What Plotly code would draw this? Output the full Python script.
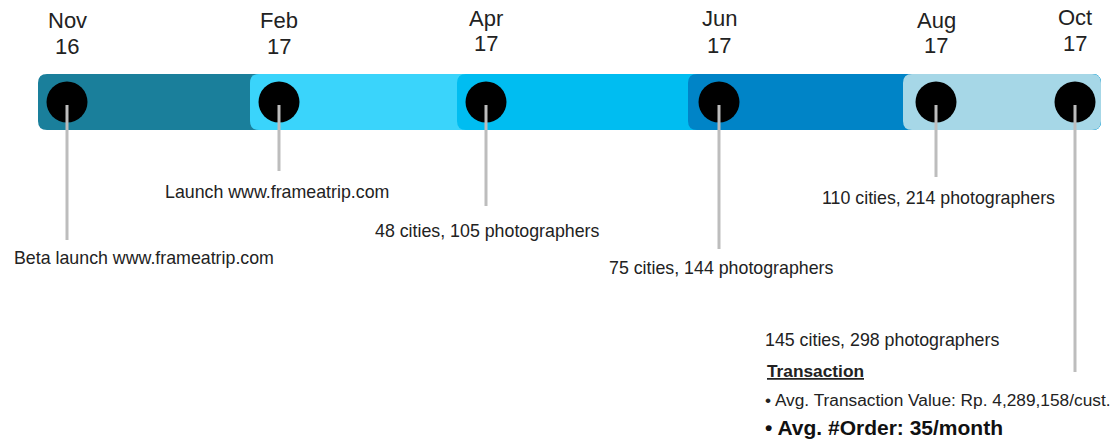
import plotly.graph_objects as go

# ---- data ----
months = ["Nov", "Feb", "Apr", "Jun", "Aug", "Oct"]
years = ["16", "17", "17", "17", "17", "17"]
milestones = [
    "Beta launch www.frameatrip.com",
    "Launch www.frameatrip.com",
    "48 cities, 105 photographers",
    "75 cities, 144 photographers",
    "110 cities, 214 photographers",
    "145 cities, 298 photographers",
]
transaction_title = "Transaction"
transaction_lines = [
    "• Avg. Transaction Value: Rp. 4,289,158/cust.",
    "• Avg. #Order: 35/month",
]

# ---- layout (pixel-like coordinates) ----
W, H = 1112, 439
event_x = [67, 279, 486, 719, 936, 1075]
circle_y = 102
stem_end_y = [240, 171, 206, 249, 177, 372]
month_y = [20, 20, 18, 18, 20, 17]
year_y = [46, 46, 43, 45, 45, 43]
label_left_x = [12, 163, 373, 607, 820, 763]
label_y = [258, 192, 231, 268, 198, 340]
seg_left = [38, 250, 457, 688, 903]
bar_right = 1101
bar_top, bar_bottom = 74, 130
seg_colors = ["#1A7F9B", "#3AD4FB", "#00BDF1", "#0084C7", "#A6D7E7"]
FONT = "Arial, Liberation Sans, sans-serif"


def rounded_rect(x0, x1, y0, y1, r):
    return (f"M {x0+r},{y0} L {x1-r},{y0} Q {x1},{y0} {x1},{y0+r} "
            f"L {x1},{y1-r} Q {x1},{y1} {x1-r},{y1} L {x0+r},{y1} "
            f"Q {x0},{y1} {x0},{y1-r} L {x0},{y0+r} Q {x0},{y0} {x0+r},{y0} Z")


fig = go.Figure()

shapes = []
for left, col in zip(seg_left, seg_colors):
    shapes.append(dict(type="path", xref="x", yref="y",
                       path=rounded_rect(left, bar_right, bar_top, bar_bottom, 9),
                       fillcolor=col, line=dict(width=0), layer="below"))

# circles
fig.add_trace(go.Scatter(x=event_x, y=[circle_y] * len(event_x), mode="markers",
                         marker=dict(size=41, color="black", line=dict(width=0)),
                         hoverinfo="skip", showlegend=False))

# stems
for x, ye in zip(event_x, stem_end_y):
    fig.add_trace(go.Scatter(x=[x, x], y=[circle_y + 3, ye], mode="lines",
                             line=dict(color="#BDBDBD", width=3),
                             hoverinfo="skip", showlegend=False))

annotations = []
for m, yr, x, ym, yy in zip(months, years, event_x, month_y, year_y):
    for txt, yv in ((m, ym), (yr, yy)):
        annotations.append(dict(x=x, y=yv, xref="x", yref="y", text=txt,
                                showarrow=False, xanchor="center", yanchor="middle",
                                font=dict(family=FONT, size=22, color="#222222")))
for t, x, y in zip(milestones, label_left_x, label_y):
    annotations.append(dict(x=x, y=y, xref="x", yref="y", text=t,
                            showarrow=False, xanchor="left", yanchor="middle",
                            font=dict(family=FONT, size=17.8, color="#222222")))
annotations.append(dict(x=765, y=371, xref="x", yref="y",
                        text=f"<b><u>{transaction_title}</u></b>",
                        showarrow=False, xanchor="left", yanchor="middle",
                        font=dict(family=FONT, size=17.3, color="#222222")))
annotations.append(dict(x=763, y=400, xref="x", yref="y", text=transaction_lines[0],
                        showarrow=False, xanchor="left", yanchor="middle",
                        font=dict(family=FONT, size=17.3, color="#222222")))
annotations.append(dict(x=763, y=427, xref="x", yref="y",
                        text=f"<b>{transaction_lines[1]}</b>",
                        showarrow=False, xanchor="left", yanchor="middle",
                        font=dict(family=FONT, size=21, color="#111111")))

fig.update_layout(
    width=W, height=H,
    margin=dict(l=0, r=0, t=0, b=0),
    paper_bgcolor="white", plot_bgcolor="white",
    shapes=shapes, annotations=annotations,
    xaxis=dict(range=[0, W], visible=False, fixedrange=True),
    yaxis=dict(range=[H, 0], visible=False, fixedrange=True),
    showlegend=False,
)

fig.write_html("out.html", config={"displayModeBar": False},
               post_script="document.body.style.margin='0';document.body.style.overflow='hidden';")
